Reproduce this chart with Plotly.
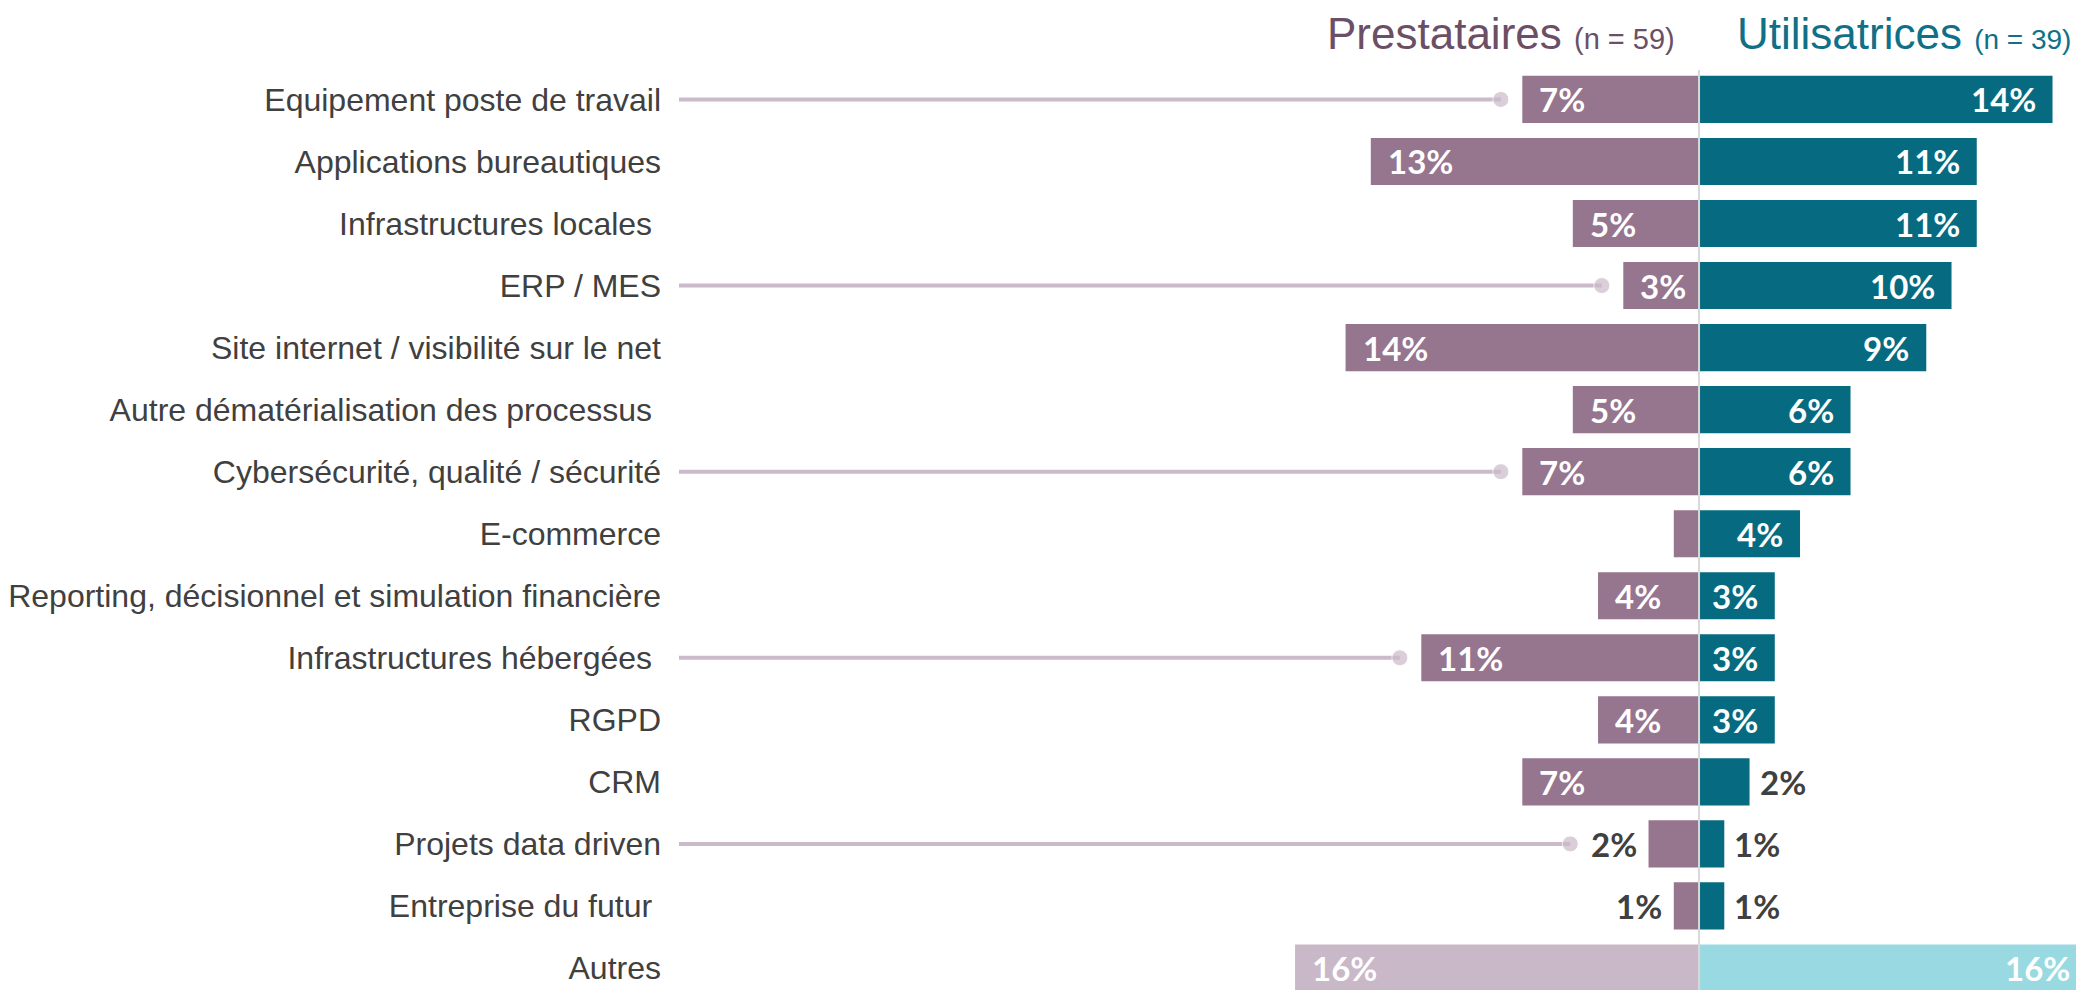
import plotly.graph_objects as go

categories = [
    "Equipement poste de travail",
    "Applications bureautiques",
    "Infrastructures locales\u00a0",
    "ERP / MES",
    "Site internet / visibilité sur le net",
    "Autre dématérialisation des processus\u00a0",
    "Cybersécurité, qualité / sécurité",
    "E-commerce",
    "Reporting, décisionnel et simulation financière",
    "Infrastructures hébergées\u00a0",
    "RGPD",
    "CRM",
    "Projets data driven",
    "Entreprise du futur\u00a0",
    "Autres",
]
prestataires = [7, 13, 5, 3, 14, 5, 7, 1, 4, 11, 4, 7, 2, 1, 16]
utilisatrices = [14, 11, 11, 10, 9, 6, 6, 4, 3, 3, 3, 2, 1, 1, 16]
prest_labels = ["7%", "13%", "5%", "3%", "14%", "5%", "7%", "", "4%", "11%", "4%", "7%", "2%", "1%", "16%"]
util_labels = ["14%", "11%", "11%", "10%", "9%", "6%", "6%", "4%", "3%", "3%", "3%", "2%", "1%", "1%", "16%"]
highlighted = ["Equipement poste de travail", "ERP / MES", "Cybersécurité, qualité / sécurité",
               "Infrastructures hébergées\u00a0", "Projets data driven"]

MAUVE = "#96758f"
TEAL = "#066b80"
MAUVE_LIGHT = "#c9b8c8"
TEAL_LIGHT = "#99d9e2"
LINE_C = "#cbbaca"
TXT = "#404040"
X_MIN, X_MAX = -40.4, 14.93
INSIDE_MIN = 3  # values below this get their label outside the bar

n = len(categories)
p_colors = [MAUVE] * (n - 1) + [MAUVE_LIGHT]
u_colors = [TEAL] * (n - 1) + [TEAL_LIGHT]

fig = go.Figure()
fig.add_trace(go.Bar(orientation="h", y=categories, x=[-v for v in prestataires],
                     marker=dict(color=p_colors, line=dict(width=0)), width=0.76,
                     hoverinfo="skip", showlegend=False))
fig.add_trace(go.Bar(orientation="h", y=categories, x=utilisatrices,
                     marker=dict(color=u_colors, line=dict(width=0)), width=0.76,
                     hoverinfo="skip", showlegend=False))

# highlight lines with dots
for cat in highlighted:
    i = categories.index(cat)
    v = prestataires[i]
    gap = 0.85 if v >= INSIDE_MIN else 3.1
    fig.add_trace(go.Scatter(x=[X_MIN, -(v + gap)], y=[cat, cat], mode="lines+markers",
                             line=dict(color=LINE_C, width=4),
                             marker=dict(size=[0, 16], color=LINE_C),
                             hoverinfo="skip", showlegend=False, cliponaxis=False))

annotations = []
LBL_FONT = "Lato, Open Sans, sans-serif"
for i, cat in enumerate(categories):
    v, lab = prestataires[i], prest_labels[i]
    if lab:
        if v >= INSIDE_MIN:
            annotations.append(dict(x=-v, y=cat, xref="x", yref="y", text=lab, showarrow=False,
                                    xanchor="left", xshift=15,
                                    font=dict(family=LBL_FONT, size=33, color="white", weight="bold")))
        else:
            annotations.append(dict(x=-v, y=cat, xref="x", yref="y", text=lab, showarrow=False,
                                    xanchor="right", xshift=-10,
                                    font=dict(family=LBL_FONT, size=33, color=TXT, weight="bold")))
    v, lab = utilisatrices[i], util_labels[i]
    if lab:
        if v > X_MAX:
            # bar runs past the right edge: keep its label inside the visible area
            annotations.append(dict(x=1, y=cat, xref="paper", yref="y", text=lab, showarrow=False,
                                    xanchor="right", xshift=-4,
                                    font=dict(family=LBL_FONT, size=33, color="white", weight="bold")))
        elif v >= INSIDE_MIN:
            annotations.append(dict(x=v, y=cat, xref="x", yref="y", text=lab, showarrow=False,
                                    xanchor="right", xshift=-15,
                                    font=dict(family=LBL_FONT, size=33, color="white", weight="bold")))
        else:
            annotations.append(dict(x=v, y=cat, xref="x", yref="y", text=lab, showarrow=False,
                                    xanchor="left", xshift=8,
                                    font=dict(family=LBL_FONT, size=33, color=TXT, weight="bold")))

HDR_FONT = "Liberation Sans, Arial, sans-serif"
annotations.append(dict(x=0, y=1, xref="x", yref="paper", yanchor="middle", yshift=23,
                        xanchor="right", xshift=-22, showarrow=False,
                        text="Prestataires <span style='font-size:29px'>(n = 59)</span>",
                        font=dict(family=HDR_FONT, size=44, color="#6b4f66")))
annotations.append(dict(x=0, y=1, xref="x", yref="paper", yanchor="middle", yshift=23,
                        xanchor="left", xshift=36, showarrow=False,
                        text="Utilisatrices <span style='font-size:28px'>(n = 39)</span>",
                        font=dict(family=HDR_FONT, size=44, color="#0f7087")))

fig.update_layout(
    width=2076, height=990,
    margin=dict(l=679, r=0, t=56, b=0, autoexpand=False),
    paper_bgcolor="white", plot_bgcolor="white",
    barmode="overlay",
    annotations=annotations,
    shapes=[dict(type="line", xref="x", yref="paper", x0=0, x1=0, y0=0, y1=0.985,
                 line=dict(color="#d9d9d9", width=2), layer="above")],
    xaxis=dict(range=[X_MIN, X_MAX], showgrid=False, zeroline=False, showticklabels=False,
               showline=False, fixedrange=True, automargin=False),
    yaxis=dict(type="category", categoryorder="array", categoryarray=categories,
               range=[14.355, -0.7], showgrid=False, zeroline=False, showline=False,
               ticks="", ticklabelstandoff=17, automargin=False,
               tickfont=dict(family=HDR_FONT, size=32, color=TXT)),
)

fig.write_html("out.html", config={"displayModeBar": False},
               post_script="document.body.style.margin='0';document.body.style.overflow='hidden';")
